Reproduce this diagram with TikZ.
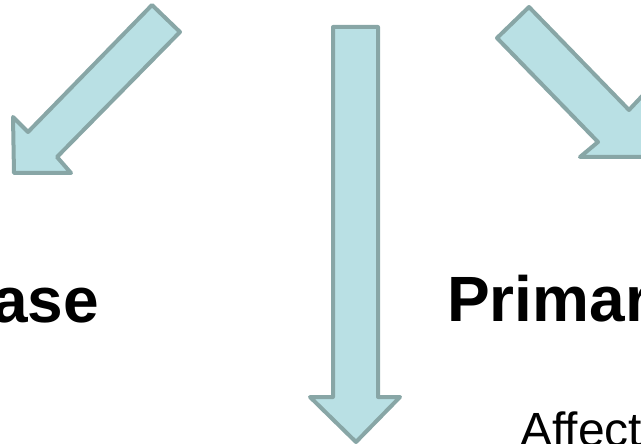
\documentclass[tikz,border=0pt]{standalone}
\usepackage{fontspec}
\setmainfont{Liberation Sans}
\definecolor{arrowfill}{RGB}{185,224,228}
\definecolor{arrowline}{RGB}{136,166,166}
\begin{document}
\begin{tikzpicture}[x=1pt,y=-1pt,
  blockarrow/.style={fill=arrowfill,draw=arrowline,line width=4pt,line join=round},
  label/.style={inner sep=0pt,font=\fontsize{64}{70}\selectfont\bfseries},
  sublabel/.style={inner sep=0pt,font=\fontsize{48}{54}\selectfont}]
\useasboundingbox (0,0) rectangle (641,444);
\clip (0,0) rectangle (641,444);
% left arrow
\draw[blockarrow] (152,5) -- (180,32) -- (57,157) -- (71,173) -- (14,173) -- (13,117) -- (28,132) -- cycle;
% middle arrow
\draw[blockarrow] (333,27) -- (378,27) -- (378,397) -- (400,397) -- (356,442) -- (310,397) -- (333,397) -- cycle;
% right arrow
\draw[blockarrow] (529,7) -- (629,110) -- (645,93) -- (645,157) -- (580,157) -- (598,142) -- (497,38) -- cycle;
\node[label,anchor=base east] (lefttext) at (99,322) {ase};
\node[label,anchor=base west] (righttext) at (447,321) {Primar};
\node[sublabel,anchor=base west] (subtext) at (520,446) {Affect};
\end{tikzpicture}
\end{document}
